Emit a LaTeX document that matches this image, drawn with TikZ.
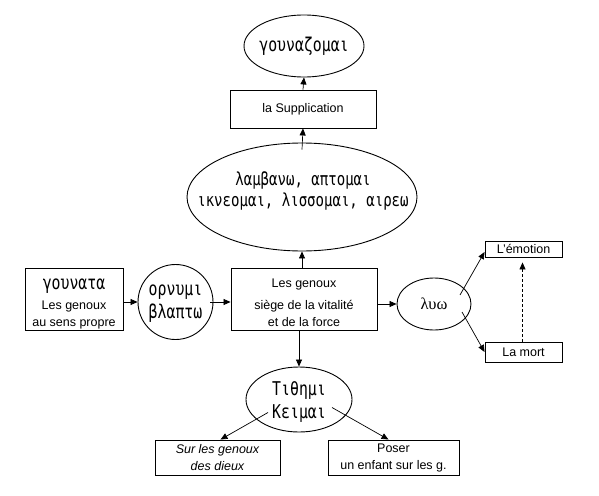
\documentclass[tikz,border=0pt]{standalone}
\usepackage{fontspec}
\setmainfont{Liberation Sans}
\newfontfamily\grk[FakeStretch=0.78]{DejaVu Sans Mono}
\newfontfamily\grks{Liberation Serif}
\usetikzlibrary{shapes.geometric,arrows.meta}
\begin{document}
\begin{tikzpicture}[x=1pt,y=-1pt,
 box/.style={draw,line width=0.9pt,rectangle,inner sep=0pt,align=center,font=\fontsize{12.5}{17}\selectfont},
 ltext/.style={inner sep=0pt,align=center,font=\fontsize{12.5}{17}\selectfont},
 oval/.style={draw,line width=0.9pt,ellipse,inner sep=0pt},
 gtext/.style={inner sep=0pt,align=center,font=\grk\fontsize{19}{22.5}\selectfont},
 arr/.style={line width=0.7pt,-{Triangle[length=7pt,width=6pt]}}]
\useasboundingbox (0,0) rectangle (599,495);
% nodes
\node[oval,minimum width=120pt,minimum height=62pt] (gz) at (304,46) {};
\node[gtext] (gzt) at (gz) {γουναζομαι};
\node[box,minimum width=146pt,minimum height=38pt] (supp) at (303,109) {la Supplication};
\node[oval,minimum width=230pt,minimum height=108pt] (big) at (302,197) {};
\node[gtext,font=\grk\fontsize{18}{21.5}\selectfont] (bigt) at (303,191) {λαμβανω, απτομαι\\ικνεομαι, λισσομαι, αιρεω};
\node[box,minimum width=146pt,minimum height=62pt] (gen) at (304,299) {};
\node[ltext] (gent) at (304,302.5) {Les genoux\\[5pt]siège de la vitalité\\et de la force};
\node[box,minimum width=98pt,minimum height=62pt] (gou) at (74,299) {};
\node[ltext] (gout) at (74,303.5) {{\grk\fontsize{19}{21}\selectfont γουνατα}\\[3pt]Les genoux\\au sens propre};
\node[oval,minimum width=75pt,minimum height=75pt] (orn) at (175.5,302) {};
\node[gtext] (ornt) at (175.5,303.5) {ορνυμι\\[1pt]βλαπτω};
\node[oval,minimum width=74pt,minimum height=52pt] (luo) at (434,304) {};
\node[gtext,font=\grks\fontsize{16.5}{18}\selectfont] (luot) at (luo) {λυω};
\node[box,minimum width=77pt,minimum height=16pt] (emo) at (523.5,249) {L'émotion};
\node[box,minimum width=77pt,minimum height=20pt] (mort) at (523.5,352) {La mort};
\node[oval,minimum width=106pt,minimum height=65pt] (tit) at (299,399.5) {};
\node[gtext] (titt) at (299,402) {Τιθημι\\Κειμαι};
\node[box,minimum width=125pt,minimum height=35pt,font=\fontsize{12.5}{17}\selectfont\itshape] (sur) at (217.5,457.5) {Sur les genoux\\des dieux};
\node[box,minimum width=131pt,minimum height=35pt] (pos) at (393.5,457.5) {Poser\\un enfant sur les g.};
% connectors
\draw[arr] (supp.north) -- (gz.south);
\draw[arr] ([yshift=-7pt]big.north) -- (supp.south);
\draw[arr] (big.south|-gen.north) -- (big.south);
\draw[arr] (gou.east|-orn.west) -- (orn.west);
\draw[arr] ([xshift=-3pt]orn.east) -- (gen.west|-orn.east);
\draw[arr] (gen.east|-luo.west) -- (luo.west);
\draw[arr] ([shift={(26pt,9pt)}]luo.center) -- ([yshift=-3pt]emo.west);
\draw[arr] ([shift={(28pt,-8pt)}]luo.center) -- (mort.west);
\draw[arr,dashed,dash pattern=on 3pt off 2pt] ([xshift=-1pt]mort.north) -- ([xshift=-1pt,yshift=-5pt]emo.south);
\draw[arr] (tit.north|-gen.south) -- (tit.north);
\draw[arr] ([shift={(-31pt,-13pt)}]tit.center) -- ([xshift=3pt]sur.north);
\draw[arr] ([shift={(33pt,-8pt)}]tit.center) -- ([xshift=-5pt]pos.north);
\end{tikzpicture}
\end{document}
